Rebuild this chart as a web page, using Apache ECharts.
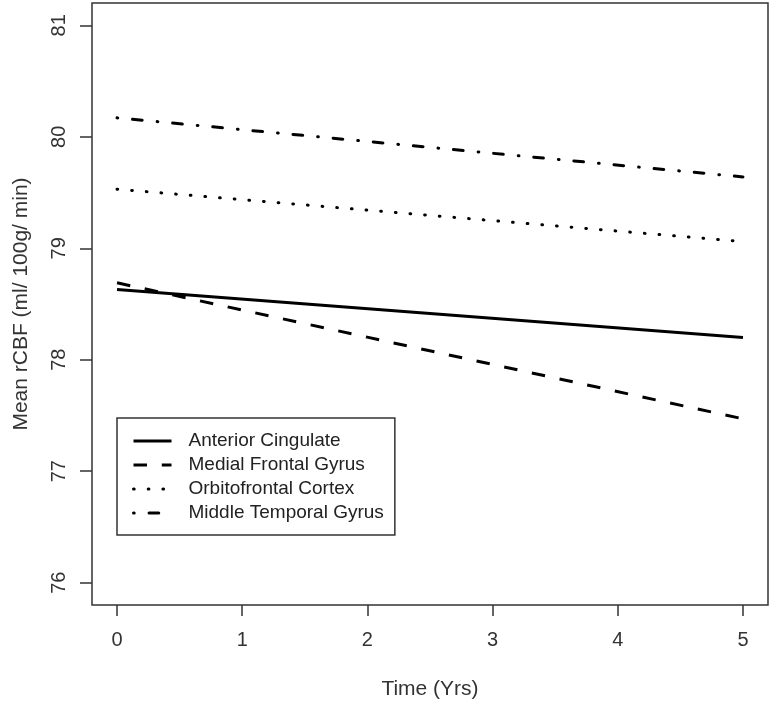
<!DOCTYPE html>
<html>
<head>
<meta charset="utf-8">
<script src="https://cdn.jsdelivr.net/npm/echarts@6/dist/echarts.min.js"></script>
<style>
html,body{margin:0;padding:0;background:#fff;}
#chart{width:772px;height:705px;}
</style>
</head>
<body>
<div id="chart"></div>
<script>
// ---- data ----
const timeYears = [0, 5];
const anteriorCingulate = [78.63, 78.20];
const medialFrontalGyrus = [78.69, 77.47];
const orbitofrontalCortex = [79.53, 79.06];
const middleTemporalGyrus = [80.17, 79.64];
const seriesNames = ['Anterior Cingulate', 'Medial Frontal Gyrus', 'Orbitofrontal Cortex', 'Middle Temporal Gyrus'];
const xTicks = [0, 1, 2, 3, 4, 5];
const yTicks = [76, 77, 78, 79, 80, 81];

const pairs = vals => timeYears.map((t, i) => [t, vals[i]]);
const FONT = 'Liberation Sans, Arial, sans-serif';
const AX = '#333';

const styles = [
  {type: 'solid', cap: 'butt'},
  {type: [13.5, 14.8], cap: 'butt'},
  {type: [0.7, 14], cap: 'round'},
  {type: [0.7, 14.85, 9.7, 15.05], cap: 'round'}
];
const values = [anteriorCingulate, medialFrontalGyrus, orbitofrontalCortex, middleTemporalGyrus];

const chart = echarts.init(document.getElementById('chart'), null, {renderer: 'canvas'});
chart.setOption({
  animation: false,
  backgroundColor: '#fff',
  textStyle: {fontFamily: FONT},
  grid: {left: 92, right: 4, top: 3, bottom: 97, show: true, borderColor: AX, borderWidth: 1.5, backgroundColor: 'transparent'},
  xAxis: {
    type: 'value', min: -0.2, max: 5.2,
    name: 'Time (Yrs)', nameLocation: 'middle', nameGap: 74,
    nameTextStyle: {fontSize: 21, color: AX, fontFamily: FONT},
    axisLine: {show: false, onZero: false},
    splitLine: {show: false},
    axisTick: {show: true, inside: false, length: 11, lineStyle: {color: AX, width: 1.5}, customValues: xTicks},
    axisLabel: {fontSize: 20, color: AX, margin: 25, fontFamily: FONT, customValues: xTicks}
  },
  yAxis: {
    type: 'value', min: 75.8, max: 81.2,
    name: 'Mean rCBF (ml/ 100g/ min)', nameLocation: 'middle', nameGap: 60, nameRotate: 90,
    nameTextStyle: {fontSize: 21, color: AX, fontFamily: FONT},
    axisLine: {show: false, onZero: false},
    splitLine: {show: false},
    axisTick: {show: true, inside: false, length: 12, lineStyle: {color: AX, width: 1.5}, customValues: yTicks},
    axisLabel: {fontSize: 20, color: AX, margin: 23, rotate: 90, fontFamily: FONT, customValues: yTicks}
  },
  legend: {
    left: 117, top: 418, orient: 'vertical',
    padding: [11, 11, 10, 15],
    borderColor: AX, borderWidth: 1.5,
    itemWidth: 38, itemHeight: 24, itemGap: 0,
    itemStyle: {opacity: 0},
    lineStyle: {width: 3},
    textStyle: {fontSize: 19, color: '#222', fontFamily: FONT, padding: [0, 0, 0, 12], lineHeight: 24},
    data: seriesNames
  },
  series: seriesNames.map((name, i) => ({
    name: name,
    type: 'line',
    data: pairs(values[i]),
    symbol: 'none',
    silent: true,
    lineStyle: {color: '#000', width: 3, type: styles[i].type, cap: styles[i].cap},
    itemStyle: {color: '#000'}
  }))
});
</script>
</body>
</html>
